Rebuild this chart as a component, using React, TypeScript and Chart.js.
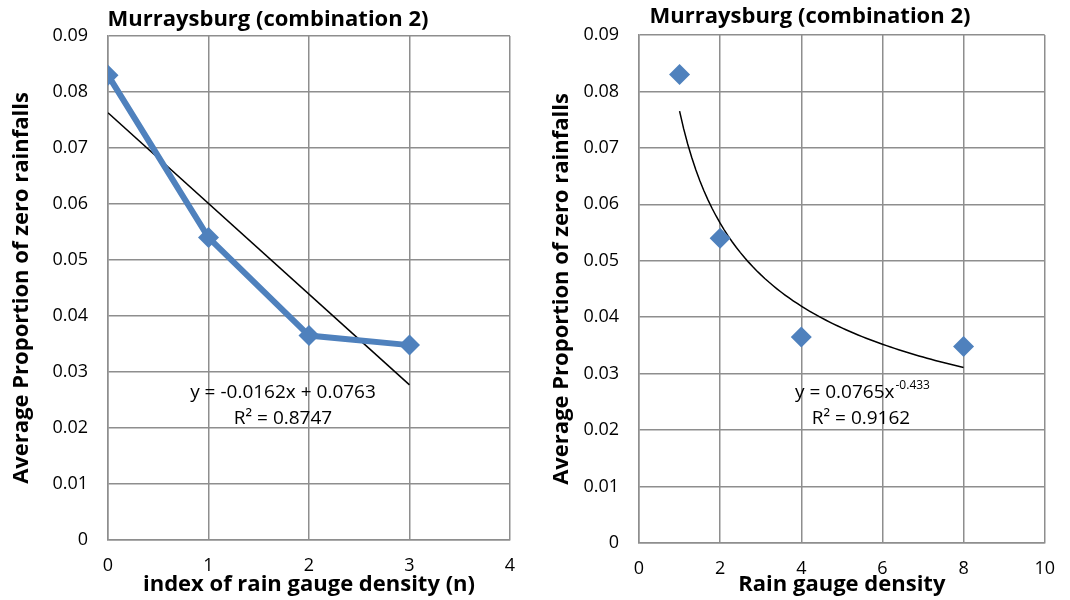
import React, { useEffect, useRef } from "react";
import { Chart, registerables } from "chart.js";

Chart.register(...registerables);

const chartTitle = "Murraysburg (combination 2)";
const yAxisTitle = "Average Proportion of zero rainfalls";

// Left chart: index of rain gauge density (n)
const leftXTitle = "index of rain gauge density (n)";
const leftX = [0, 1, 2, 3];
const leftY = [0.083, 0.054, 0.0365, 0.0348];
const leftSlope = -0.0162;
const leftIntercept = 0.0763;
const leftEq = "y = -0.0162x + 0.0763";
const leftR2 = "R² = 0.8747";

// Right chart: rain gauge density
const rightXTitle = "Rain gauge density";
const rightX = [1, 2, 4, 8];
const rightY = [0.083, 0.054, 0.0365, 0.0348];
const powCoef = 0.0765;
const powExp = -0.433;
const rightEqMain = "y = 0.0765x";
const rightEqSup = "-0.433";
const rightR2 = "R² = 0.9162";

const FONT = "'Open Sans', Lato, sans-serif";
const BLUE = "#4F81BD";
const GRID = "#8e8e8e";

type Ann = { title: { x: number; y: number }; lines: { x: number; y: number; text: string; sup?: string; align: CanvasTextAlign }[] };

const textPlugin = {
  id: "textPlugin",
  afterDraw(chart: any, _args: any, opts: Ann) {
    const ctx = chart.ctx;
    ctx.save();
    ctx.fillStyle = "#000";
    ctx.textBaseline = "middle";
    ctx.font = `bold 22px ${FONT}`;
    ctx.textAlign = "center";
    ctx.fillText(chartTitle, opts.title.x, opts.title.y);
    for (const l of opts.lines) {
      ctx.font = `19px ${FONT}`;
      ctx.textAlign = l.align;
      ctx.fillText(l.text, l.x, l.y);
      if (l.sup) {
        const w = ctx.measureText(l.text).width;
        ctx.font = `12px ${FONT}`;
        ctx.textAlign = "left";
        ctx.fillText(l.sup, l.x + w + 1, l.y - 7);
      }
    }
    ctx.restore();
  },
};

function makeOptions(cfg: {
  xMin: number; xMax: number; xStep: number; xTitle: string;
  yWidth: number; xHeight: number; pad: any; yTitlePad: number; ann: Ann;
}) {
  return {
    animation: false,
    responsive: false,
    maintainAspectRatio: false,
    layout: { padding: cfg.pad },
    plugins: {
      legend: { display: false },
      tooltip: { enabled: false },
      title: { display: false },
      textPlugin: cfg.ann,
    },
    scales: {
      x: {
        type: "linear",
        min: cfg.xMin,
        max: cfg.xMax,
        ticks: { stepSize: cfg.xStep, color: "#000", font: { family: FONT, size: 18 }, padding: 15, maxRotation: 0 },
        grid: { color: GRID, lineWidth: 1.5, drawTicks: false },
        border: { color: GRID, width: 1.5 },
        title: { display: true, text: cfg.xTitle, color: "#000", font: { family: FONT, size: 22, weight: "bold" }, padding: { top: 0, bottom: 2 } },
        afterFit(scale: any) { scale.height = cfg.xHeight; },
      },
      y: {
        type: "linear",
        min: 0,
        max: 0.09,
        ticks: { stepSize: 0.01, color: "#000", font: { family: FONT, size: 18 }, padding: 20, callback: (v: number) => String(Math.round(v * 100) / 100) },
        grid: { color: GRID, lineWidth: 1.5, drawTicks: false },
        border: { color: GRID, width: 1.5 },
        title: { display: true, text: yAxisTitle, color: "#000", font: { family: FONT, size: 22, weight: "bold" }, padding: { top: cfg.yTitlePad, bottom: 0 } },
        afterFit(scale: any) { scale.width = cfg.yWidth; },
      },
    },
  };
}

export default function App() {
  const leftRef = useRef<HTMLCanvasElement>(null);
  const rightRef = useRef<HTMLCanvasElement>(null);

  useEffect(() => {
    const leftTrendX = [leftX[0], leftX[leftX.length - 1]];
    const leftChart = new Chart(leftRef.current!, {
      type: "scatter",
      data: {
        datasets: [
          {
            data: leftX.map((x, i) => ({ x, y: leftY[i] })),
            showLine: true,
            borderColor: BLUE,
            backgroundColor: BLUE,
            borderWidth: 6,
            pointStyle: "rectRot",
            pointRadius: 10.5,
            pointBorderWidth: 0,
          },
          {
            data: leftTrendX.map((x) => ({ x, y: leftSlope * x + leftIntercept })),
            showLine: true,
            borderColor: "#000",
            borderWidth: 1.5,
            pointRadius: 0,
          },
        ],
      },
      options: makeOptions({
        xMin: 0, xMax: 4, xStep: 1, xTitle: leftXTitle,
        yWidth: 108, xHeight: 60, pad: { left: 0, top: 36, right: 25, bottom: 0 }, yTitlePad: 9,
        ann: {
          title: { x: 268, y: 20 },
          lines: [
            { x: 283, y: 393, text: leftEq, align: "center" },
            { x: 283, y: 419, text: leftR2, align: "center" },
          ],
        },
      }) as any,
      plugins: [textPlugin],
    });

    const xs: number[] = [];
    const x0 = rightX[0], x1 = rightX[rightX.length - 1];
    for (let i = 0; i <= 70; i++) xs.push(x0 + ((x1 - x0) * i) / 70);
    const rightChart = new Chart(rightRef.current!, {
      type: "scatter",
      data: {
        datasets: [
          {
            data: rightX.map((x, i) => ({ x, y: rightY[i] })),
            showLine: false,
            borderColor: BLUE,
            backgroundColor: BLUE,
            pointStyle: "rectRot",
            pointRadius: 10.5,
            pointBorderWidth: 0,
          },
          {
            data: xs.map((x) => ({ x, y: powCoef * Math.pow(x, powExp) })),
            showLine: true,
            borderColor: "#000",
            borderWidth: 1.5,
            pointRadius: 0,
            tension: 0,
          },
        ],
      },
      options: makeOptions({
        xMin: 0, xMax: 10, xStep: 2, xTitle: rightXTitle,
        yWidth: 104, xHeight: 57, pad: { left: 0, top: 35, right: 16, bottom: 0 }, yTitlePad: 14,
        ann: {
          title: { x: 275, y: 17 },
          lines: [
            { x: 260, y: 393, text: rightEqMain, sup: rightEqSup, align: "left" },
            { x: 326, y: 419, text: rightR2, align: "center" },
          ],
        },
      }) as any,
      plugins: [textPlugin],
    });

    return () => {
      leftChart.destroy();
      rightChart.destroy();
    };
  }, []);

  return (
    <div style={{ position: "absolute", left: 0, top: 0, width: 1070, height: 600, background: "#fff" }}>
      <canvas ref={leftRef} width={535} height={600} style={{ position: "absolute", left: 0, top: 0, width: 535, height: 600 }} />
      <canvas ref={rightRef} width={535} height={600} style={{ position: "absolute", left: 535, top: 0, width: 535, height: 600 }} />
    </div>
  );
}
